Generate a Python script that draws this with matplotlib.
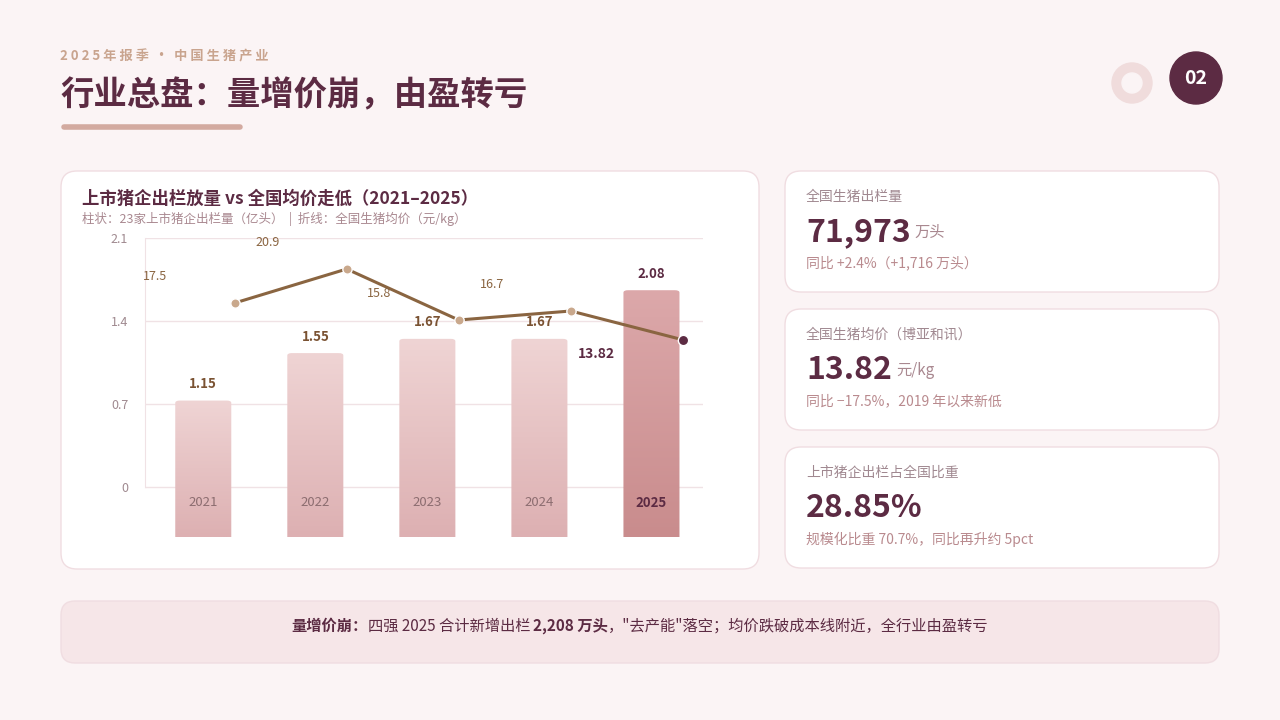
import numpy as np
import matplotlib.pyplot as plt
from matplotlib.patches import FancyBboxPatch

plt.rcParams['font.family'] = ['Noto Sans CJK SC', 'DejaVu Sans']

years = ['2021', '2022', '2023', '2024', '2025']
volume = [1.15, 1.55, 1.67, 1.67, 2.08]      # 亿头
price = [17.5, 20.9, 15.8, 16.7, 13.82]      # 元/kg
price_labels = ['17.5', '20.9', '15.8', '16.7', '13.82']

cards = [
    ('全国生猪出栏量', '71,973', '万头', '同比 +2.4%（+1,716 万头）'),
    ('全国生猪均价（博亚和讯）', '13.82', '元/kg', '同比 −17.5%，2019 年以来新低'),
    ('上市猪企出栏占全国比重', '28.85%', '', '规模化比重 70.7%，同比再升约 5pct'),
]

banner = [('量增价崩：', True), ('四强 2025 合计新增出栏 ', False), ('2,208 万头', True),
          ('，"去产能"落空；均价跌破成本线附近，全行业由盈转亏', False)]

BG = '#fbf4f5'
DARK = '#5c2b43'
MUTED = '#a98890'
BROWN = '#8a6541'

fig = plt.figure(figsize=(12.8, 7.2), dpi=100, facecolor=BG)
bg = fig.add_axes([0, 0, 1, 1])
bg.set_xlim(0, 1280)
bg.set_ylim(720, 0)
bg.axis('off')


def card(x, y, w, h, fc='white', ec='#f0dde1', r=16):
    bg.add_patch(FancyBboxPatch((x, y), w, h, boxstyle=f'round,pad=0,rounding_size={r}',
                                fc=fc, ec=ec, lw=1))


# header
bg.text(60, 56, '2 0 2 5 年 报 季  ·  中 国 生 猪 产 业', fontsize=9.5, color='#c9a48e',
        weight='bold', va='center')
bg.text(60, 96, '行业总盘：量增价崩，由盈转亏', fontsize=24, color=DARK, weight='bold', va='center')
bg.plot([64, 240], [127, 127], color='#d3aaa0', lw=4, solid_capstyle='round')
bg.add_patch(plt.Circle((1132, 83), 20, color='#f0dcdc'))
bg.add_patch(plt.Circle((1132, 83), 10, color=BG))
bg.add_patch(plt.Circle((1196, 78), 26, color=DARK))
bg.text(1196, 78, '02', fontsize=14, color='white', weight='bold', ha='center', va='center')

# chart card
card(61, 171, 698, 398)
bg.text(82, 199, '上市猪企出栏放量 vs 全国均价走低（2021–2025）', fontsize=12.5, color=DARK,
        weight='bold', va='center')
bg.text(82, 219, '柱状：23家上市猪企出栏量（亿头）  |  折线：全国生猪均价（元/kg）', fontsize=9,
        color=MUTED, va='center')

# right cards
for i, (t, v, u, s) in enumerate(cards):
    y0 = 171 + i * 138
    card(785, y0, 434, 121)
    bg.text(806, y0 + 26, t, fontsize=10, color='#a08890', va='center')
    tv = bg.text(806, y0 + 61, v, fontsize=23, color=DARK, weight='bold', va='center')
    if u:
        bg.annotate(u, xy=(1, 0), xycoords=tv, xytext=(3, 5), textcoords='offset points',
                    fontsize=11, color='#a98890', va='bottom')
    bg.text(806, y0 + 92, s, fontsize=10, color='#b98a8e', va='center')

# bottom banner
card(61, 601, 1158, 62, fc='#f6e6e8', ec='#f0dde1', r=14)
pieces = []
prev = None
for txt, bold in banner:
    if prev is None:
        prev = bg.text(0, 626, txt, fontsize=11, color=DARK, weight='bold' if bold else 'normal',
                       va='center')
    else:
        prev = bg.annotate(txt, xy=(1, 0.5), xycoords=prev, va='center', fontsize=11,
                           color=DARK, weight='bold' if bold else 'normal')
    pieces.append(prev)
fig.canvas.draw()
r = fig.canvas.get_renderer()
total = pieces[-1].get_window_extent(r).x1 - pieces[0].get_window_extent(r).x0
pieces[0].set_x(640 - total / 2)

# chart
ax = fig.add_axes([145 / 1280, 183 / 720, 558 / 1280, 299 / 720])
ax.set_facecolor('none')
base = -0.42
x = np.arange(len(years))
bars = ax.bar(x, volume, bottom=base, width=0.5, color='none', zorder=2)
for i, b in enumerate(bars):
    if i == len(bars) - 1:
        top_c, bot_c = np.array([220, 168, 170]), np.array([201, 140, 141])
    else:
        top_c, bot_c = np.array([239, 212, 212]), np.array([221, 176, 178])
    grad = np.linspace(0, 1, 100)[:, None, None]
    img = (top_c * (1 - grad) + bot_c * grad) / 255.0
    x0, y0 = b.get_x(), b.get_y()
    im = ax.imshow(img, extent=[x0, x0 + b.get_width(), y0, y0 + b.get_height()],
                   aspect='auto', origin='upper', zorder=2)
    b.set_edgecolor('none')
    im.set_clip_path(FancyBboxPatch((x0, y0 - 0.3), b.get_width(), b.get_height() + 0.3,
                                    boxstyle='round,pad=0,rounding_size=0.04',
                                    mutation_aspect=0.5, transform=ax.transData))
    ax.text(i, base + volume[i] + 0.08, f'{volume[i]:.2f}', ha='center', va='bottom',
            fontsize=9.5, weight='bold', color=DARK if i == 4 else '#7a5232')
    ax.text(i, -0.13, years[i], ha='center', va='center', fontsize=9.5,
            color=DARK if i == 4 else '#8c6d70', weight='bold' if i == 4 else 'normal', zorder=3)

ax.set_xlim(-0.52, 4.46)
ax.set_ylim(base, 2.1)
ax.set_yticks([0, 0.7, 1.4, 2.1])
ax.set_yticklabels(['0', '0.7', '1.4', '2.1'], fontsize=9, color='#a08a90')
ax.tick_params(length=0, pad=12)
ax.set_xticks([])
ax.grid(axis='y', color='#f0e2e5', lw=1, zorder=0)
for s in ['top', 'right', 'bottom']:
    ax.spines[s].set_visible(False)
ax.spines['left'].set_color('#f0e2e5')
ax.spines['left'].set_bounds(0, 2.1)

ax2 = ax.twinx()
ax2.set_ylim(-5.9, 24.0)
ax2.axis('off')
px = x + 0.28
ax2.plot(px, price, color=BROWN, lw=2.2, zorder=4)
ax2.scatter(px[:4], price[:4], s=45, color='#c9a88c', zorder=5, edgecolor='white', lw=1)
ax2.scatter(px[4:], price[4:], s=55, color=DARK, zorder=5, edgecolor='white', lw=1)
for i, lab in enumerate(price_labels):
    if i == 4:
        ax2.annotate(lab, (px[i], price[i]), xytext=(-62, -10), textcoords='offset points',
                     fontsize=10, weight='bold', color=DARK, ha='center', va='center')
    else:
        ax2.annotate(lab, (px[i], price[i]), xytext=(-57, 19), textcoords='offset points',
                     fontsize=9, color=BROWN, ha='center', va='center')

fig.savefig('out.png', dpi=100, facecolor=BG)
